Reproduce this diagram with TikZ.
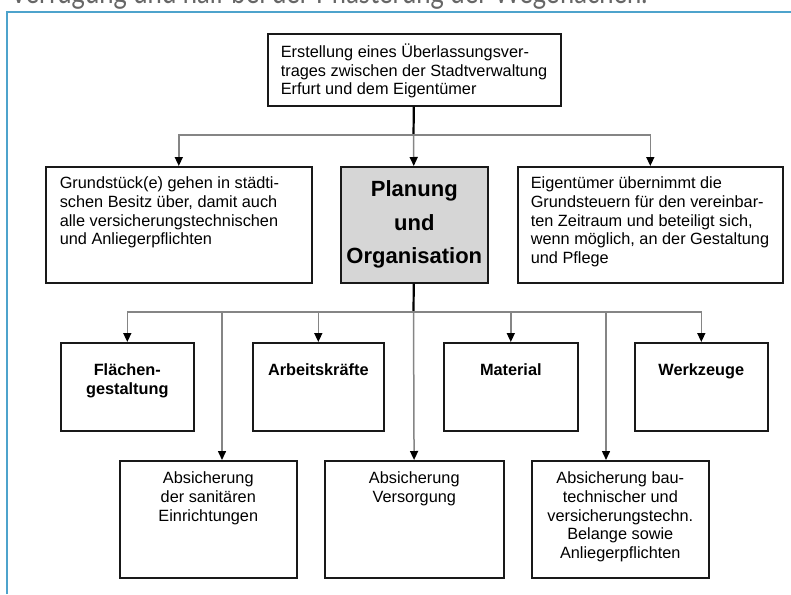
\documentclass[tikz,border=0pt]{standalone}
\usepackage{fontspec}
\setmainfont{Liberation Sans}
\newfontfamily\kopffont{Lato}[FakeStretch=0.8]
\usetikzlibrary{arrows.meta}

\definecolor{linie}{HTML}{858585}
\definecolor{rahmen}{HTML}{4DA3CC}
\definecolor{fuell}{HTML}{D6D6D6}

% box content: width, height, first baseline, alignment, text
\newcommand{\boxtext}[5]{\parbox[t][#2][t]{#1}{#4\vspace*{\dimexpr#3-20pt\relax}\rule{0pt}{20pt}#5}}
\newcommand{\linksb}{\raggedright\leftskip=13pt}

\begin{document}
\begin{tikzpicture}[x=1pt,y=-1pt,>={Triangle[width=8pt,length=9pt,color=black]},
  font=\fontsize{16.3}{18.6}\selectfont]
  \tikzset{box/.style={draw=black!90,line width=1.6pt,inner sep=0pt,anchor=north west},
    fett/.style={font=\fontsize{16.3}{18.6}\selectfont\bfseries},
    stamm/.style={draw=black,line width=2.2pt},
    pfeil/.style={->,draw=linie,line width=1.5pt}}
  \useasboundingbox (0,0) rectangle (791,594);
  \node[anchor=base west,inner sep=0pt,text=black!60,font=\kopffont\fontsize{32}{32}\selectfont] (kopf) at (10,3.5) {Verfügung und half bei der Pflasterung der Wegeflächen.};
  \draw[rahmen,line width=1.5pt] (7,594) -- (7,12) -- (791,12);
  % first level
  \node[box] (vertrag) at (267,33) {\boxtext{293pt}{72pt}{24pt}{\linksb}{Erstellung eines Überlassungsver-\\trages zwischen der Stadtverwaltung\\Erfurt und dem Eigentümer}};
  \node[box] (besitz) at (45,166) {\boxtext{266pt}{116pt}{22pt}{\raggedright\leftskip=14pt}{Grundstück(e) gehen in städti-\\schen Besitz über, damit auch\\alle versicherungstechnischen\\und Anliegerpflichten}};
  \node[box,fill=fuell,font=\fontsize{22}{33.5}\selectfont\bfseries] (planung) at (340,166) {\boxtext{147pt}{116pt}{30pt}{\centering}{Planung\\und\\Organisation}};
  \node[box] (steuern) at (517,166) {\boxtext{265pt}{116pt}{22pt}{\linksb}{Eigentümer übernimmt die\\Grundsteuern für den vereinbar-\\ten Zeitraum und beteiligt sich,\\wenn möglich, an der Gestaltung\\und Pflege}};
  % second level
  \node[box,fett] (flaechen) at (60,342) {\boxtext{133pt}{88pt}{33pt}{\centering}{Flächen-\\gestaltung}};
  \node[box,fett] (arbeit) at (252,342) {\boxtext{131pt}{88pt}{33pt}{\centering}{Arbeitskräfte}};
  \node[box,fett] (material) at (443,342) {\boxtext{134pt}{88pt}{33pt}{\centering}{Material}};
  \node[box,fett] (werkzeug) at (634,342) {\boxtext{133pt}{88pt}{33pt}{\centering}{Werkzeuge}};
  \node[box] (sanitaer) at (119,460) {\boxtext{177pt}{117pt}{23pt}{\centering}{Absicherung\\der sanitären\\Einrichtungen}};
  \node[box] (versorgung) at (324,460) {\boxtext{179pt}{117pt}{23pt}{\centering}{Absicherung\\Versorgung}};
  \node[box] (bau) at (531,460) {\boxtext{177pt}{117pt}{23pt}{\centering}{Absicherung bau-\\technischer und\\versicherungstechn.\\Belange sowie\\Anliegerpflichten}};
  % connectors
  \coordinate (k1) at (413.5,135);
  \coordinate (k2) at (413.5,312);
  \coordinate (s1) at (222,312);
  \coordinate (s3) at (606,312);
  \draw[stamm] (vertrag) -- (k1);
  \draw[pfeil] (k1) -| (besitz);
  \draw[pfeil] (k1) -| (steuern);
  \draw[pfeil] (k1) -- (planung);
  \draw[stamm] (planung) -- (k2);
  \foreach \z in {flaechen,arbeit,material,werkzeug}
    \draw[pfeil] (k2) -| (\z);
  \draw[pfeil] (k2) -- (versorgung);
  \draw[pfeil] (s1) -- (s1 |- sanitaer.north);
  \draw[pfeil] (s3) -- (s3 |- bau.north);
\end{tikzpicture}
\end{document}
